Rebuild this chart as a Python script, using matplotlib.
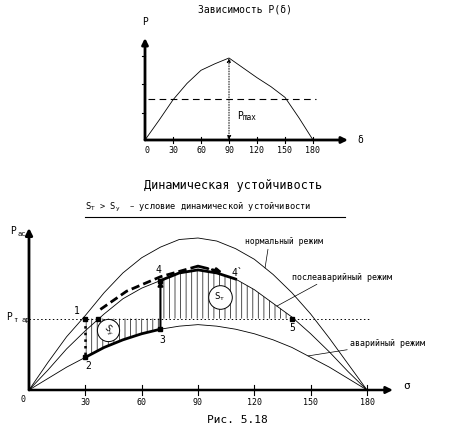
import numpy as np
import matplotlib
matplotlib.use("Agg")
import matplotlib.pyplot as plt

plt.rcParams['font.family'] = ['DejaVu Sans Mono', 'DejaVu Sans']
plt.rcParams['hatch.linewidth'] = 0.6

# ---------------- data ----------------
# top chart: P(delta)
top_delta = [0, 15, 30, 45, 60, 75, 90, 105, 120, 135, 150, 165, 180]
top_P = [0, 0.24, 0.49, 0.69, 0.85, 0.93, 1.0, 0.88, 0.76, 0.65, 0.52, 0.27, 0]
top_level = 0.5
top_ticks = [0, 30, 60, 90, 120, 150, 180]
top_yticks = [0.33, 0.68, 1.02]

# bottom chart: power-angle characteristics
delta = np.array([0, 10, 20, 30, 40, 50, 60, 70, 80, 90, 100, 110, 120, 130, 140, 150, 160, 170, 180])
P_normal = np.array([0, 0.18, 0.35, 0.49, 0.64, 0.77, 0.87, 0.94, 0.99, 1.0, 0.98, 0.93, 0.86, 0.76, 0.64, 0.50, 0.34, 0.17, 0])
P_post = np.array([0, 0.13, 0.27, 0.39, 0.50, 0.60, 0.67, 0.72, 0.77, 0.79, 0.77, 0.73, 0.66, 0.57, 0.48, 0.37, 0.25, 0.12, 0])
P_emerg = np.array([0, 0.075, 0.15, 0.215, 0.28, 0.33, 0.37, 0.40, 0.42, 0.43, 0.42, 0.40, 0.37, 0.33, 0.28, 0.215, 0.15, 0.075, 0])
P_T = 0.47
bottom_ticks = [30, 60, 90, 120, 150, 180]

# characteristic points
pt_labels = ['1', '2', '3', '4', "4`", '5']
pt_delta = [30, 30, 70, 70, 106, 140]
pt_P = [0.47, 0.215, 0.40, 0.72, 0.75, 0.47]
c_delta, c_P = 37, 0.47
# trajectory (dashed)
traj_delta = [38, 52, 70, 90, 103]
traj_P = [0.53, 0.65, 0.745, 0.815, 0.775]

# ---------------- figure ----------------
W, H = 471, 433
fig = plt.figure(figsize=(W / 100, H / 100), dpi=100)


def add_axes_px(L, T, w, h):
    return fig.add_axes([L / W, 1 - (T + h) / H, w / W, h / H])


def ftext(x, y, s, **kw):
    fig.text(x / W, 1 - y / H, s, **kw)


# ===== top chart =====
ax1 = add_axes_px(120, 25, 260, 140)
ax1.set_xlim(-26.79, 251.79)
ax1.set_ylim(-0.3049, 1.4024)
ax1.axis('off')

ax1.annotate('', xy=(217.5, 0), xytext=(0, 0),
             arrowprops=dict(arrowstyle='-|>', lw=2, color='k', mutation_scale=9, shrinkA=0, shrinkB=0),
             annotation_clip=False)
ax1.annotate('', xy=(0, 1.244), xytext=(0, 0),
             arrowprops=dict(arrowstyle='-|>', lw=2, color='k', mutation_scale=9, shrinkA=0, shrinkB=0),
             annotation_clip=False)
ax1.plot(top_delta, top_P, color='k', lw=0.6)
ax1.plot([3, 183], [top_level, top_level], color='k', lw=0.8, dashes=(6, 4))
for t in top_ticks[1:]:
    ax1.plot([t, t], [-0.04, 0.04], color='k', lw=0.8)
for t in top_ticks:
    ax1.text(t + (2 if t == 0 else 0), -0.13, str(t), ha='center', va='center', fontsize=6)
for yt in top_yticks:
    ax1.plot([-3.5, 0], [yt, yt], color='k', lw=0.8)
ax1.annotate('', xy=(90, max(top_P)), xytext=(90, 0),
             arrowprops=dict(arrowstyle='<|-|>', lw=0.7, color='k', ls=':', mutation_scale=6,
                             shrinkA=0, shrinkB=0))
ftext(237, 116, r'P', fontsize=7, va='center')
ftext(243, 118, 'max', fontsize=5.5, va='center')
ftext(145, 22, 'P', fontsize=7, ha='center', va='center')
ftext(357, 140, 'δ', fontsize=7, ha='left', va='center')
ftext(245, 10, 'Зависимость P(δ)', fontsize=7, ha='center', va='center')

# ===== bottom chart =====
ax2 = add_axes_px(0, 220, 471, 213)
ax2.set_xlim(-15.44, 235.38)
ax2.set_ylim(-0.2829, 1.1184)
ax2.axis('off')

ax2.annotate('', xy=(193.8, 0), xytext=(0, 0),
             arrowprops=dict(arrowstyle='-|>', lw=1.8, color='k', mutation_scale=10, shrinkA=0, shrinkB=0),
             annotation_clip=False)
ax2.annotate('', xy=(0, 1.066), xytext=(0, 0),
             arrowprops=dict(arrowstyle='-|>', lw=2, color='k', mutation_scale=10, shrinkA=0, shrinkB=0),
             annotation_clip=False)
for t in bottom_ticks:
    ax2.plot([t, t], [-0.035, 0.035], color='k', lw=0.8)
    ax2.text(t, -0.08, str(t), ha='center', va='center', fontsize=6)
ax2.text(-3.3, -0.065, '0', ha='center', va='center', fontsize=6)

# hatched areas
m_acc = (delta >= 30) & (delta <= 70)
ax2.fill_between(delta[m_acc], P_emerg[m_acc], P_T, facecolor='none', edgecolor='#333333',
                 hatch='|||', lw=0)
m_dec = (delta >= 70) & (delta <= 140)
ax2.fill_between(delta[m_dec], P_T, P_post[m_dec], facecolor='none', edgecolor='#333333',
                 hatch='|||', lw=0)

# curves
ax2.plot(delta, P_normal, color='k', lw=0.6)
ax2.plot(delta, P_post, color='k', lw=0.6)
ax2.plot(delta, P_emerg, color='k', lw=0.6)
ax2.plot([0, 182], [P_T, P_T], color='k', lw=0.7, dashes=(1.5, 2.5))

# bold segments
ax2.plot(delta[m_acc], P_emerg[m_acc], color='k', lw=2)
m_44 = (delta >= 70) & (delta <= 110)
ax2.plot(delta[m_44], P_post[m_44], color='k', lw=2)
ax2.plot([pt_delta[0], pt_delta[1]], [pt_P[0], pt_P[1]], color='k', lw=1.8, ls=':')
ax2.annotate('', xy=(pt_delta[3], pt_P[3]), xytext=(pt_delta[2], pt_P[2]),
             arrowprops=dict(arrowstyle='-|>', lw=1.5, color='k', mutation_scale=7, shrinkA=0, shrinkB=0))
ax2.plot(traj_delta[:-1], traj_P[:-1], color='k', lw=2, dashes=(3, 1.5))
ax2.annotate('', xy=(traj_delta[-1], traj_P[-1]), xytext=(traj_delta[-2], traj_P[-2]),
             arrowprops=dict(arrowstyle='-|>', lw=2, color='k', ls='--', mutation_scale=7,
                             shrinkA=0, shrinkB=0))

# points
ax2.plot([pt_delta[i] for i in (0, 1, 2, 3, 5)], [pt_P[i] for i in (0, 1, 2, 3, 5)],
         's', ms=3.5, color='k')
ax2.plot([c_delta], [c_P], 's', ms=3.5, color='k')
lab_off = [(-4.5, 0.05), (1.5, -0.06), (1, -0.07), (-1, 0.07), (5, 0.02), (0, -0.06)]
for lbl, d, p, (dx, dy) in zip(pt_labels, pt_delta, pt_P, lab_off):
    ax2.text(d + dx, p + dy, lbl, ha='center', va='center', fontsize=7)

# area circles
ax2.plot([42.1], [0.395], 'o', ms=16, mfc='white', mec='k', mew=0.7)
ax2.text(42.1, 0.395, r'S$_\mathrm{у}$', ha='center', va='center', fontsize=6.5, rotation=-45)
ax2.plot([101.7], [0.612], 'o', ms=17, mfc='white', mec='k', mew=0.7)
ax2.text(101.7, 0.612, r'S$_\mathrm{т}$', ha='center', va='center', fontsize=6.5)

# leader labels
ax2.annotate('нормальный режим', xy=(125.7, float(np.interp(125.7, delta, P_normal))),
             xytext=(245, 433 - 242), textcoords='figure pixels', fontsize=5.8, va='center',
             arrowprops=dict(arrowstyle='-', lw=0.5, color='k', shrinkA=0, shrinkB=0,
                             relpos=(0.3, 0)))
ax2.annotate('послеаварийный режим', xy=(132, float(np.interp(132, delta, P_post))),
             xytext=(292, 433 - 277), textcoords='figure pixels', fontsize=6, va='center',
             arrowprops=dict(arrowstyle='-', lw=0.5, color='k', shrinkA=0, shrinkB=0,
                             relpos=(0.3, 0)))
ax2.annotate('аварийный режим', xy=(148.6, float(np.interp(148.6, delta, P_emerg))),
             xytext=(350, 433 - 343), textcoords='figure pixels', fontsize=6, va='center',
             arrowprops=dict(arrowstyle='-', lw=0.5, color='k', shrinkA=0, shrinkB=0,
                             relpos=(0.15, 0)))

# axis labels
ftext(10, 231, 'P', fontsize=7, va='center')
ftext(17, 234, 'ас', fontsize=5, va='center')
ftext(6, 317, 'P', fontsize=7, va='center')
ftext(13, 320, 'т', fontsize=5, va='center')
ftext(21, 320, 'ар', fontsize=5, va='center')
ftext(403, 386, 'σ', fontsize=8, va='center')

# titles
ftext(233, 186, 'Динамическая устойчивость', fontsize=8.5, ha='center', va='center')
ftext(85, 207, r'S$_\mathrm{Т}$ > S$_\mathrm{у}$  – условие динамической устойчивости',
      fontsize=6.2, ha='left', va='center')
fig.add_artist(plt.Line2D([85 / W, 345 / W], [1 - 217 / H, 1 - 217 / H], color='k', lw=0.8))
ftext(237, 420, 'Рис. 5.18', fontsize=8, ha='center', va='center')

fig.savefig('out.png', dpi=100)
